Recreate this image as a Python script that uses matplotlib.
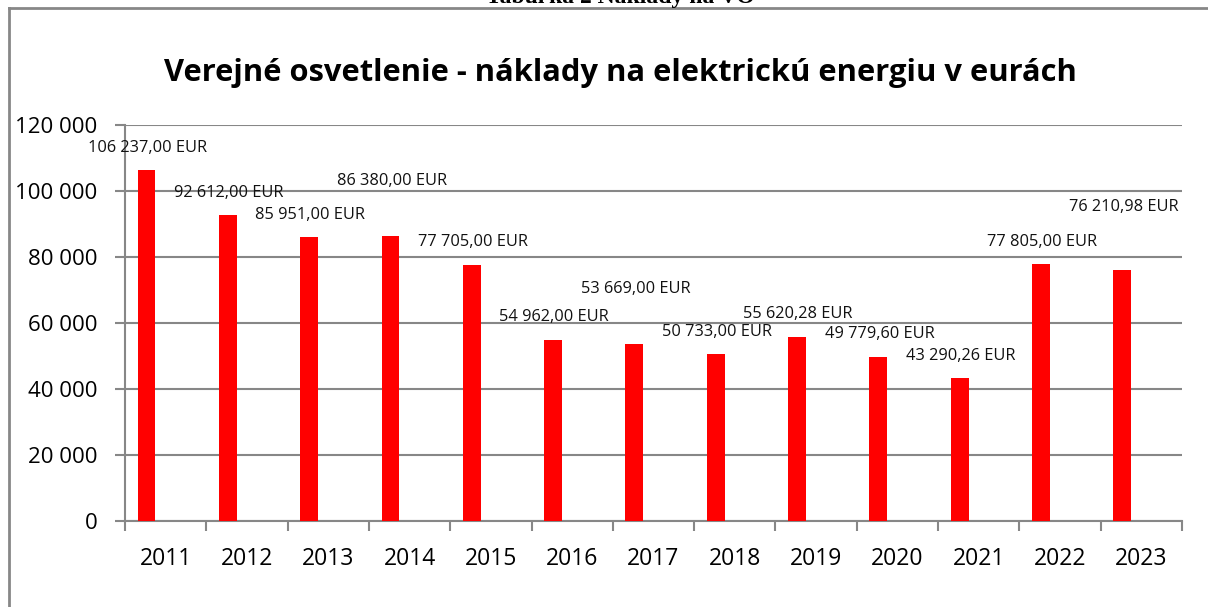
import matplotlib.pyplot as plt
from matplotlib.lines import Line2D
import numpy as np

years = ["2011", "2012", "2013", "2014", "2015", "2016", "2017",
         "2018", "2019", "2020", "2021", "2022", "2023"]
costs = [106237.00, 92612.00, 85951.00, 86380.00, 77705.00, 54962.00, 53669.00,
         50733.00, 55620.28, 49779.60, 43290.26, 77805.00, 76210.98]
# label heights (manually moved labels in the original)
label_y = [113000, 99400, 92700, 103000, 84500, 61800, 70300,
           57300, 62700, 56700, 50000, 84500, 95100]

GRAY = "#878787"


def fmt_eur(v):
    s = f"{v:,.2f}"
    return s.replace(",", " ").replace(".", ",") + " EUR"


fig = plt.figure(figsize=(12.08, 6.07), dpi=100)
ax = fig.add_axes([125 / 1208, 1 - 521 / 607, (1182 - 125) / 1208, 396 / 607])

x = np.arange(len(years))
ax.bar(x - 0.235, costs, width=0.22, color="#ff0000", zorder=3)

for xi, v, ly in zip(x, costs, label_y):
    ax.text(xi - 0.22, ly, fmt_eur(v), ha="center", va="center",
            fontsize=11.8, family="Open Sans", color="#111111")

ax.set_xlim(-0.5, len(years) - 0.5)
ax.set_ylim(0, 120000)
ax.set_yticks(np.arange(0, 120001, 20000))
ax.set_yticklabels([f"{int(t):,}".replace(",", " ") for t in ax.get_yticks()],
                   family="Open Sans", fontsize=16)
ax.set_xticks(x)
ax.set_xticklabels(years, family="Open Sans", fontsize=16.5)
ax.set_xticks(np.arange(-0.5, len(years), 1), minor=True)
ax.tick_params(axis="x", which="major", length=0, pad=19)
ax.tick_params(axis="x", which="minor", length=7, width=1.5, color=GRAY)
ax.tick_params(axis="y", length=7, width=1.5, color=GRAY, pad=13)
ax.grid(axis="y", color=GRAY, linewidth=1.5, zorder=0)
for s in ["top", "right"]:
    ax.spines[s].set_visible(False)
for s in ["left", "bottom"]:
    ax.spines[s].set_color(GRAY)
    ax.spines[s].set_linewidth(1.5)

fig.text(620 / 1208, 1 - 73 / 607, "Verejné osvetlenie - náklady na elektrickú energiu v eurách",
         ha="center", va="center", fontsize=22.2, fontweight="bold", family="Open Sans")

# page caption, cut off at the top edge
fig.text(620 / 1208, 1 - 3 / 607, "Tabuľka 2 Náklady na VO", ha="center", va="baseline",
         fontsize=17, fontweight="bold", family="Liberation Serif")

# chart frame
fig.add_artist(Line2D([9 / 1208, 1.01], [1 - 8 / 607, 1 - 8 / 607], color=GRAY,
                      linewidth=2, transform=fig.transFigure))
fig.add_artist(Line2D([9 / 1208, 9 / 1208], [-0.01, 1 - 8 / 607], color=GRAY,
                      linewidth=2, transform=fig.transFigure))

fig.savefig("out.png", dpi=100)
